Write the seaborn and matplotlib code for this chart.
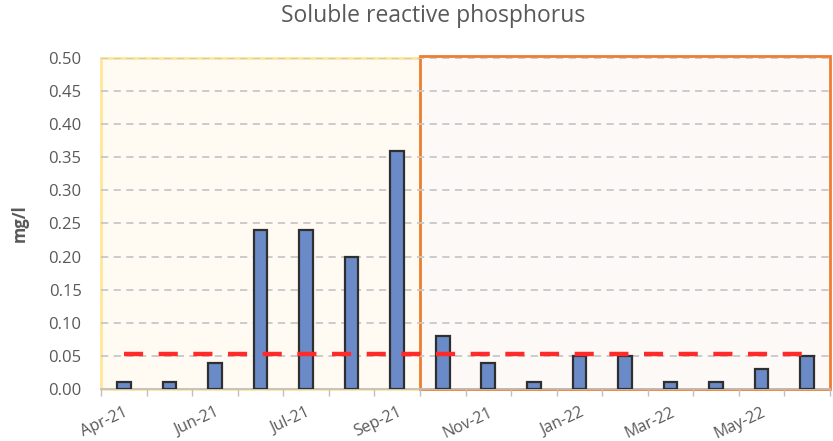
import numpy as np
import pandas as pd
import matplotlib
matplotlib.use("Agg")
import matplotlib.pyplot as plt
import seaborn as sns
from matplotlib.patches import Rectangle
from matplotlib.ticker import FormatStrFormatter

# data
samples = ["Apr-21", "May-21", "Jun-21", "Jun-21b", "Jul-21", "Aug-21", "Sep-21", "Oct-21",
           "Nov-21", "Dec-21", "Jan-22", "Feb-22", "Mar-22", "Apr-22", "May-22", "Jun-22"]
srp = [0.01, 0.01, 0.04, 0.24, 0.24, 0.20, 0.36, 0.08,
       0.04, 0.01, 0.05, 0.05, 0.01, 0.01, 0.03, 0.05]
threshold = [0.053] * len(samples)
tick_labels = ["Apr-21", "Jun-21", "Jul-21", "Sep-21", "Nov-21", "Jan-22", "Mar-22", "May-22"]
period_split = 7  # first sample of the second period

df = pd.DataFrame({"sample": samples, "srp": srp, "threshold": threshold})
df["pos"] = np.arange(len(df))

sns.set_theme(style="white")
plt.rcParams["font.family"] = ["Open Sans", "DejaVu Sans"]
grey = "#595959"

fig = plt.figure(figsize=(8.33, 4.41), dpi=100)
ax = fig.add_axes([0.1213, 0.1179, 0.8751, 0.7506])

# period boxes
n = len(samples)
ax.add_patch(Rectangle((-0.5, 0), period_split, 0.5, facecolor="#FFFBF3",
                       edgecolor="#FFE699", lw=2, zorder=0, clip_on=False))
ax.add_patch(Rectangle((period_split - 0.5, 0), n - period_split, 0.503, facecolor="#FDF9F6",
                       edgecolor="#ED7D31", lw=2, zorder=0.5, clip_on=False))

for yv in np.arange(0.05, 0.51, 0.05):
    ax.axhline(yv, color="#C8C8C8", lw=1.3, ls=(0, (4, 3)), zorder=1)

sns.barplot(data=df, x="pos", y="srp", order=list(range(n)), width=0.3,
            color="#6A8BC8", edgecolor="#2F2F2F", linewidth=1.6,
            saturation=1, ax=ax, zorder=3, native_scale=False)

sns.lineplot(data=df, x="pos", y="threshold", ax=ax, color="#FF2B2B", lw=3.2,
             zorder=4, legend=False)
ax.lines[-1].set_dashes((4.3, 3.5))

ax.set_xlim(-0.5, n - 0.5)
ax.set_ylim(0, 0.5)
ax.set_yticks(np.arange(0, 0.51, 0.05))
ax.yaxis.set_major_formatter(FormatStrFormatter("%.2f"))
ax.tick_params(axis="y", length=0, labelsize=12, labelcolor=grey, pad=14)

ax.set_xticks(np.arange(0, n, 2))
ax.set_xticklabels(tick_labels, rotation=25, ha="right", rotation_mode="anchor")
ax.set_xticks(np.arange(-0.5, n, 1), minor=True)
ax.tick_params(axis="x", which="major", length=0, labelsize=11.5, labelcolor=grey, pad=11)
ax.tick_params(axis="x", which="minor", length=5, color="#BFBFBF", width=1, bottom=True)

for s in ["left", "right", "top"]:
    ax.spines[s].set_visible(False)
ax.spines["bottom"].set_color("#BFBFBF")
ax.set_facecolor("white")

ax.set_xlabel("")
ax.set_ylabel("mg/l", fontsize=12, fontweight="bold", color=grey, labelpad=14)
fig.suptitle("Soluble reactive phosphorus", fontsize=16.5, color=grey, x=0.52, y=0.99)

fig.savefig("out.png", dpi=100)
